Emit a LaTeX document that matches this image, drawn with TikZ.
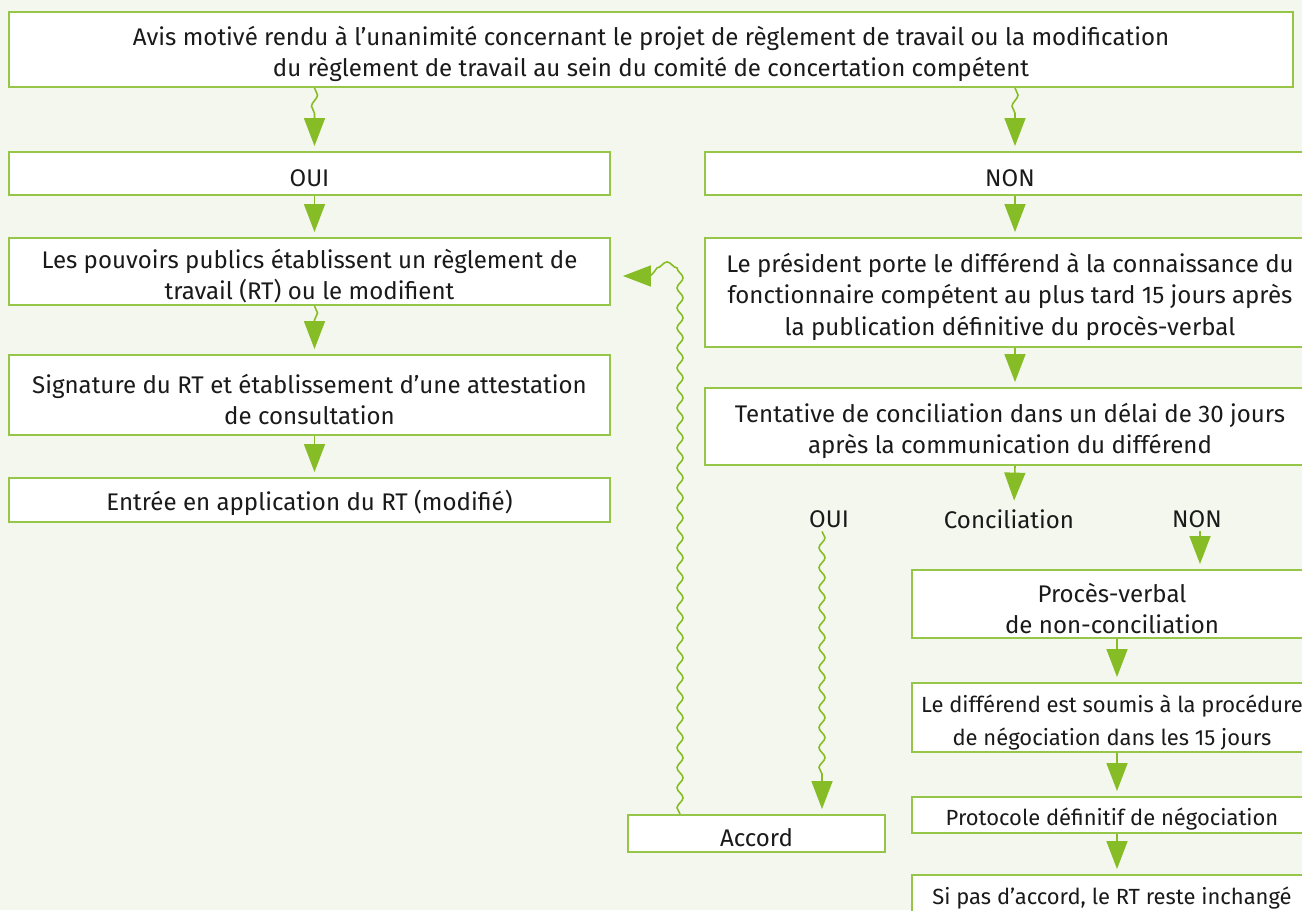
\documentclass[tikz,border=0pt]{standalone}
\usepackage{fontspec}
\setmainfont{Fira Sans}
\usetikzlibrary{arrows.meta,decorations.pathmorphing}
\definecolor{bggreen}{RGB}{244,247,237}
\definecolor{linegreen}{RGB}{150,198,72}
\definecolor{tipgreen}{RGB}{134,188,37}
\definecolor{txtgray}{RGB}{26,26,26}
\newcommand\boxfont{\fontsize{13.7}{17.8}\selectfont}
\newcommand\smallboxfont{\fontsize{12.5}{18.5}\selectfont}
\newcommand\topstrut{\rule{0pt}{16pt}}
\tikzset{
	box/.style={draw=linegreen, line width=1.1pt, fill=white, align=center, inner sep=0pt, text=txtgray, font=\boxfont, execute at begin node={\rule{0pt}{15pt}}},
	lbl/.style={text=txtgray, inner sep=2pt, font=\boxfont},
	flow/.style={draw=tipgreen, line width=0.9pt, decorate, decoration={snake, amplitude=0.06cm, segment length=0.45cm, post length=0.62cm}, -{Triangle[width=0.42cm,length=0.56cm]}, shorten >=0.1cm},
}
\begin{document}
\begin{tikzpicture}[x=0.02cm,y=-0.02cm]
		\useasboundingbox (0,0) rectangle (1302,910);
		\clip (0,0) rectangle (1302,910);
		\fill[bggreen] (0,0) rectangle (1302,910);
		% top question
		\node[box, minimum width=25.68cm, minimum height=1.5cm] (avis) at (651,49.5) {\topstrut Avis motivé rendu à l’unanimité concernant le projet de règlement de travail ou la modification\\du règlement de travail au sein du comité de concertation compétent};
		% left column
		\node[box, minimum width=12.02cm, minimum height=0.86cm] (oui) at (309.5,173.5) {OUI};
		\node[box, minimum width=12.02cm, minimum height=1.34cm] (pouv) at (309.5,271.5) {\topstrut Les pouvoirs publics établissent un règlement de\\travail (RT) ou le modifient};
		\node[box, minimum width=12.02cm, minimum height=1.6cm] (sign) at (309.5,395) {\topstrut Signature du RT et établissement d’une attestation\\de consultation};
		\node[box, minimum width=12.02cm, minimum height=0.88cm] (entree) at (309.5,500) {Entrée en application du RT (modifié)};
		% right column
		\node[box, minimum width=12.2cm, minimum height=0.86cm] (non) at (1010,173.5) {NON};
		\node[box, minimum width=12.2cm, minimum height=2.18cm] (pres) at (1010,292.5) {\topstrut Le président porte le différend à la connaissance du\\fonctionnaire compétent au plus tard 15 jours après\\la publication définitive du procès-verbal};
		\node[box, minimum width=12.2cm, minimum height=1.54cm] (tent) at (1010,426.5) {\topstrut Tentative de conciliation dans un délai de 30 jours\\après la communication du différend};
		\node[lbl] (ouilbl) at (829,519) {OUI};
		\node[lbl] (concil) at (1009,519) {Conciliation};
		\node[lbl] (nonlbl) at (1197,519) {NON};
		\node[box, minimum width=8cm, minimum height=1.36cm] (pv) at (1112,604) {\topstrut Procès-verbal\\de non-conciliation};
		\node[box, font=\smallboxfont, minimum width=8cm, minimum height=1.38cm] (diff) at (1112,717.5) {\topstrut Le différend est soumis à la procédure\\de négociation dans les 15 jours};
		\node[box, font=\smallboxfont, minimum width=8cm, minimum height=0.72cm] (prot) at (1112,815) {Protocole définitif de négociation};
		\node[box, font=\smallboxfont, minimum width=8cm, minimum height=0.76cm] (sipas) at (1112,894) {Si pas d’accord, le RT reste inchangé};
		\node[box, minimum width=5.14cm, minimum height=0.74cm] (accord) at (756.5,833.5) {Accord};
		% connectors
		\draw[flow] ([xshift=0.1cm]oui.north |- avis.south) -- ([xshift=0.1cm]oui.north);
		\draw[flow] ([xshift=0.1cm]non.north |- avis.south) -- ([xshift=0.1cm]non.north);
		\draw[flow] ([xshift=0.1cm]oui.south) -- ([xshift=0.1cm]pouv.north);
		\draw[flow] ([xshift=0.1cm]pouv.south) -- ([xshift=0.1cm]sign.north);
		\draw[flow] ([xshift=0.1cm]sign.south) -- ([xshift=0.1cm]entree.north);
		\draw[flow] ([xshift=0.1cm]non.south) -- ([xshift=0.1cm]pres.north);
		\draw[flow] ([xshift=0.1cm]pres.south) -- ([xshift=0.1cm]tent.north);
		\draw[flow] ([xshift=0.1cm]tent.south) -- ([xshift=0.1cm]concil.north);
		\draw[flow] ([xshift=0.06cm]nonlbl.south) -- ([xshift=0.06cm]nonlbl.south |- pv.north);
		\draw[flow] ([xshift=0.1cm]pv.south) -- ([xshift=0.1cm]diff.north);
		\draw[flow] ([xshift=0.1cm]diff.south) -- ([xshift=0.1cm]prot.north);
		\draw[flow] ([xshift=0.1cm]prot.south) -- ([xshift=0.1cm]sipas.north);
		\draw[flow, decoration={segment length=0.4cm}] ([xshift=-0.14cm]ouilbl.south) -- ([xshift=-0.14cm]ouilbl.south |- accord.north);
		\draw[flow, decoration={segment length=0.4cm}, shorten >=0.24cm] ([xshift=-1.53cm]accord.north) |- ([yshift=-0.09cm]pouv.east);
\end{tikzpicture}
\end{document}
